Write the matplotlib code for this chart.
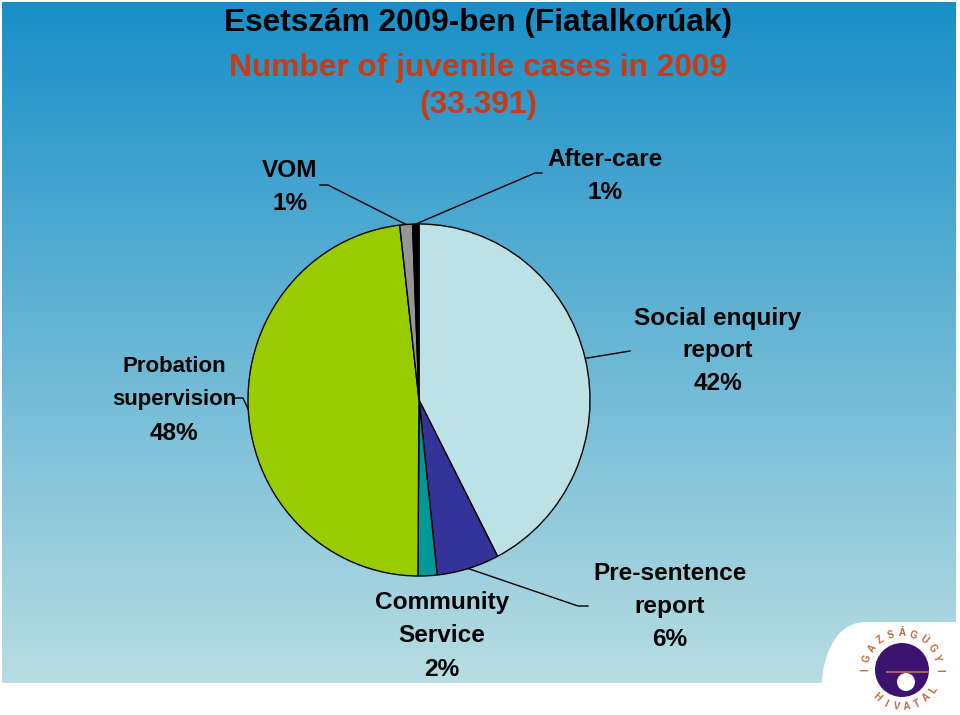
import numpy as np
import matplotlib.pyplot as plt
from matplotlib.patches import Circle, PathPatch
from matplotlib.path import Path

plt.rcParams['font.family'] = ['Liberation Sans', 'DejaVu Sans']

# data (share of cases, %)
labels = ['Social enquiry\nreport', 'Pre-sentence\nreport', 'Community\nService',
          'Probation\nsupervision', 'VOM', 'After-care']
shares = [42.4, 5.9, 1.8, 48.1, 1.2, 0.6]
pct_text = ['42%', '6%', '2%', '48%', '1%', '1%']
colors = ['#BDE2E5', '#333399', '#009999', '#99CC00', '#969696', '#000000']

title_hu = 'Esetszám 2009-ben (Fiatalkorúak)'
title_en = ['Number of juvenile cases in 2009', '(33.391)']

# label block centres (pixels), name font size and leader bends
label_pos = [(718, 351), (670, 606), (442, 636), (174, 400), (290, 187), (605, 176)]
name_size = [17.6, 17.6, 17.6, 16, 17.6, 17.6]
leaders = [[(630, 351)], [(578, 606), (588, 606)], None,
           [(243, 398), (233, 398)], [(328, 185), (320, 185)], [(535, 173), (542, 173)]]

fig = plt.figure(figsize=(9.6, 7.15), dpi=100)
bg = fig.add_axes([0, 0, 1, 1])
bg.set_xlim(0, 960)
bg.set_ylim(715, 0)
bg.axis('off')

# background gradient
top = np.array([24, 143, 200]) / 255
bottom = np.array([184, 221, 226]) / 255
t = np.linspace(0, 1, 256)[:, None, None]
grad = top * (1 - t) + bottom * t
bg.imshow(grad, extent=(2, 956, 683, 2), aspect='auto', zorder=0)

# pie
cx, cy, rx, ry = 419, 400, 171, 176
pa = fig.add_axes([(cx - rx) / 960, (715 - cy - ry) / 715, 2 * rx / 960, 2 * ry / 715])
wedges, _ = pa.pie(shares, colors=colors, startangle=90, counterclock=False, radius=1,
                   wedgeprops=dict(edgecolor='black', linewidth=1))
pa.set_aspect('auto')
pa.set_xlim(-1, 1)
pa.set_ylim(-1, 1)
pa.axis('off')

inv = bg.transData.inverted()
for w, lab, pct, pos, fs, lead in zip(wedges, labels, pct_text, label_pos, name_size, leaders):
    lines = lab.split('\n') + [pct]
    n = len(lines)
    for i, ln in enumerate(lines):
        size = 17.6 if i == n - 1 else fs
        bg.text(pos[0], pos[1] + (i - (n - 1) / 2) * 33, ln, ha='center', va='center',
                fontsize=size, fontweight='bold', color='black')
    if lead:
        a = np.deg2rad((w.theta1 + w.theta2) / 2)
        ex, ey = inv.transform(pa.transData.transform((np.cos(a), np.sin(a))))
        pts = [(ex, ey)] + lead
        bg.plot([p[0] for p in pts], [p[1] for p in pts], color='black', lw=1, zorder=5)

# title
bg.text(478, 23, title_hu, ha='center', va='center', fontsize=22.8, fontweight='bold', color='black')
bg.text(478, 68, title_en[0], ha='center', va='center', fontsize=22.8, fontweight='bold', color='#CC3A12')
bg.text(478, 105, title_en[1], ha='center', va='center', fontsize=22.8, fontweight='bold', color='#CC3A12')

# logo corner
verts = [(960, 622), (866, 622), (838, 622), (823, 650), (821, 690), (821, 715), (960, 715), (960, 622)]
codes = [Path.MOVETO, Path.LINETO, Path.CURVE4, Path.CURVE4, Path.CURVE4,
         Path.LINETO, Path.LINETO, Path.CLOSEPOLY]
bg.add_patch(PathPatch(Path(verts, codes), facecolor='white', edgecolor='none', zorder=2))
lcx, lcy = 902, 670
bg.add_patch(Circle((lcx, lcy), 27, facecolor='#3C1470', edgecolor='none', zorder=3))
bg.plot([887, 928], [672, 672], color='#C07060', lw=1.2, zorder=4)
bg.add_patch(Circle((906, 682), 9, facecolor='white', edgecolor='none', zorder=4))
for word, a0, a1, rot_off in [('IGAZSÁGÜGYI', 180, 0, -90), ('HIVATAL', 228, 328, 90)]:
    for ch, a in zip(word, np.linspace(a0, a1, len(word))):
        r = np.deg2rad(a)
        bg.text(lcx + 37 * np.cos(r), lcy - 37 * np.sin(r), ch, ha='center', va='center',
                rotation=a + rot_off, fontsize=7, fontweight='bold', color='#C06A3E', zorder=4)

fig.savefig('out.png', dpi=100)
